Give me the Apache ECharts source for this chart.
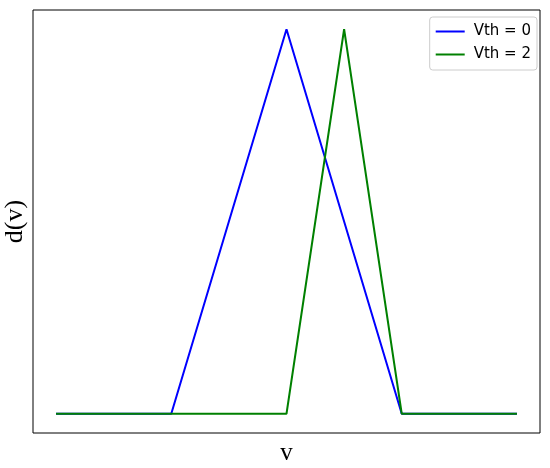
<!DOCTYPE html>
<html>
<head>
<meta charset="utf-8">
<script src="https://cdn.jsdelivr.net/npm/echarts@6/dist/echarts.min.js"></script>
<style>html,body{margin:0;padding:0;background:#fff;}#c{width:550px;height:468px;}</style>
</head>
<body>
<div id="c"></div>
<script>
const vValues = [-4, -2, 0, 1, 2, 4];
const dVth0 = [0, 0, 1, 0.5, 0, 0];
const dVth2 = [0, 0, 0, 1, 0, 0];
const seriesNames = ['Vth = 0', 'Vth = 2'];

const chart = echarts.init(document.getElementById('c'));
chart.setOption({
  animation: false,
  backgroundColor: '#fff',
  grid: { left: 33, top: 10, right: 10, bottom: 35, show: true, borderColor: '#000', borderWidth: 1, backgroundColor: 'transparent', containLabel: false, outerBoundsMode: 'none' },
  xAxis: {
    type: 'value', min: -4.4, max: 4.4,
    axisLine: { show: false }, axisTick: { show: false }, axisLabel: { show: false }, splitLine: { show: false },
    name: 'v', nameLocation: 'middle', nameGap: 8,
    nameTextStyle: { fontFamily: 'Liberation Serif', fontSize: 25, color: '#000', verticalAlign: 'top' }
  },
  yAxis: {
    type: 'value', min: -0.05, max: 1.05,
    axisLine: { show: false }, axisTick: { show: false }, axisLabel: { show: false }, splitLine: { show: false },
    name: 'd(v)', nameLocation: 'middle', nameGap: 5,
    nameTextStyle: { fontFamily: 'Liberation Serif', fontSize: 26, color: '#000' }
  },
  legend: {
    orient: 'vertical', right: 13, top: 17,
    data: seriesNames,
    icon: 'rect', itemWidth: 29, itemHeight: 2, itemGap: 8,
    backgroundColor: '#fff', borderColor: '#ccc', borderWidth: 1, borderRadius: 3,
    padding: [7, 6, 8, 6],
    textStyle: { fontFamily: 'DejaVu Sans', fontSize: 15, color: '#000', padding: [0, 0, 0, 4] }
  },
  series: [
    { name: seriesNames[0], type: 'line', data: vValues.map((v, i) => [v, dVth0[i]]), showSymbol: false, symbol: 'none', lineStyle: { color: '#0000ff', width: 2 }, itemStyle: { color: '#0000ff' } },
    { name: seriesNames[1], type: 'line', data: vValues.map((v, i) => [v, dVth2[i]]), showSymbol: false, symbol: 'none', lineStyle: { color: '#008000', width: 2 }, itemStyle: { color: '#008000' } }
  ]
});
</script>
</body>
</html>
